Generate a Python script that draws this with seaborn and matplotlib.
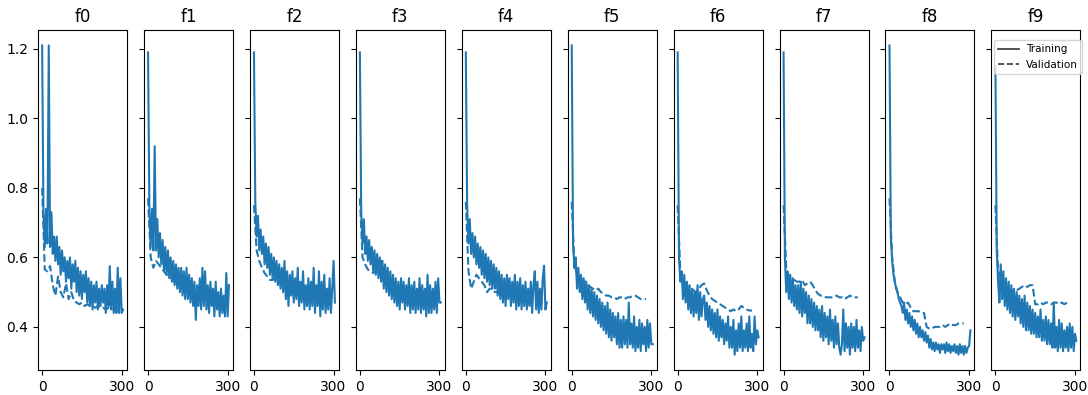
import numpy as np
import pandas as pd
import seaborn as sns
import matplotlib.pyplot as plt
from matplotlib.lines import Line2D

train_epochs = list(range(0, 306, 5))
val_epochs = list(range(0, 281, 10))

folds = ["f0", "f1", "f2", "f3", "f4", "f5", "f6", "f7", "f8", "f9"]

train_f0 = [1.21, 0.73, 0.63, 0.74, 0.64, 1.21, 0.63, 0.73, 0.61, 0.66,
            0.59, 0.66, 0.58, 0.63, 0.55, 0.62, 0.56, 0.60, 0.53, 0.59,
            0.54, 0.60, 0.51, 0.58, 0.53, 0.59, 0.50, 0.57, 0.49, 0.56,
            0.48, 0.55, 0.50, 0.56, 0.47, 0.54, 0.46, 0.53, 0.45, 0.52,
            0.47, 0.53, 0.45, 0.51, 0.46, 0.52, 0.47, 0.51, 0.44, 0.52,
            0.46, 0.575, 0.45, 0.53, 0.44, 0.51, 0.44, 0.57, 0.44, 0.54,
            0.44, 0.45]
train_f1 = [1.19, 0.74, 0.63, 0.74, 0.62, 0.92, 0.62, 0.71, 0.60, 0.67,
            0.58, 0.65, 0.56, 0.63, 0.55, 0.62, 0.54, 0.60, 0.53, 0.59,
            0.52, 0.58, 0.51, 0.57, 0.50, 0.57, 0.49, 0.56, 0.48, 0.57,
            0.48, 0.55, 0.47, 0.54, 0.46, 0.53, 0.42, 0.52, 0.46, 0.54,
            0.45, 0.57, 0.46, 0.56, 0.45, 0.52, 0.44, 0.53, 0.46, 0.51,
            0.43, 0.53, 0.45, 0.50, 0.43, 0.51, 0.44, 0.49, 0.43, 0.555,
            0.43, 0.52]
train_f2 = [1.19, 0.76, 0.66, 0.72, 0.62, 0.68, 0.61, 0.66, 0.58, 0.64,
            0.57, 0.63, 0.55, 0.61, 0.54, 0.60, 0.53, 0.59, 0.52, 0.58,
            0.51, 0.57, 0.50, 0.59, 0.48, 0.56, 0.46, 0.55, 0.49, 0.56,
            0.47, 0.54, 0.48, 0.57, 0.46, 0.53, 0.47, 0.56, 0.45, 0.52,
            0.46, 0.54, 0.45, 0.53, 0.46, 0.57, 0.44, 0.52, 0.46, 0.56,
            0.43, 0.53, 0.45, 0.55, 0.44, 0.51, 0.45, 0.54, 0.44, 0.51,
            0.59, 0.47]
train_f3 = [1.19, 0.73, 0.64, 0.71, 0.61, 0.66, 0.59, 0.65, 0.58, 0.63,
            0.56, 0.62, 0.55, 0.61, 0.54, 0.60, 0.53, 0.59, 0.51, 0.58,
            0.50, 0.57, 0.49, 0.56, 0.48, 0.55, 0.47, 0.54, 0.46, 0.53,
            0.45, 0.54, 0.47, 0.53, 0.45, 0.52, 0.46, 0.54, 0.44, 0.52,
            0.45, 0.53, 0.44, 0.51, 0.45, 0.54, 0.44, 0.52, 0.45, 0.51,
            0.43, 0.55, 0.44, 0.52, 0.44, 0.51, 0.45, 0.53, 0.44, 0.54,
            0.47, 0.47]
train_f4 = [1.19, 0.75, 0.64, 0.71, 0.61, 0.67, 0.60, 0.66, 0.58, 0.64,
            0.57, 0.63, 0.55, 0.62, 0.54, 0.61, 0.53, 0.60, 0.52, 0.59,
            0.51, 0.58, 0.51, 0.57, 0.49, 0.56, 0.48, 0.55, 0.47, 0.54,
            0.46, 0.55, 0.48, 0.54, 0.46, 0.53, 0.47, 0.55, 0.45, 0.53,
            0.46, 0.54, 0.45, 0.52, 0.46, 0.53, 0.45, 0.51, 0.46, 0.53,
            0.44, 0.52, 0.56, 0.45, 0.53, 0.44, 0.51, 0.45, 0.54, 0.576,
            0.45, 0.47]
train_f5 = [1.21, 0.64, 0.57, 0.60, 0.51, 0.57, 0.50, 0.55, 0.48, 0.54,
            0.47, 0.53, 0.45, 0.52, 0.44, 0.51, 0.43, 0.50, 0.42, 0.49,
            0.41, 0.48, 0.40, 0.47, 0.39, 0.46, 0.38, 0.47, 0.37, 0.45,
            0.36, 0.44, 0.37, 0.43, 0.35, 0.44, 0.34, 0.42, 0.34, 0.43,
            0.35, 0.42, 0.34, 0.47, 0.35, 0.41, 0.34, 0.43, 0.33, 0.40,
            0.34, 0.42, 0.33, 0.41, 0.35, 0.40, 0.33, 0.42, 0.34, 0.41,
            0.35, 0.35]
train_f6 = [1.19, 0.60, 0.53, 0.56, 0.48, 0.55, 0.47, 0.53, 0.45, 0.52,
            0.44, 0.51, 0.43, 0.50, 0.44, 0.52, 0.42, 0.50, 0.43, 0.48,
            0.49, 0.42, 0.47, 0.40, 0.46, 0.39, 0.45, 0.38, 0.44, 0.37,
            0.45, 0.36, 0.43, 0.37, 0.42, 0.35, 0.41, 0.36, 0.43, 0.34,
            0.40, 0.34, 0.42, 0.32, 0.39, 0.33, 0.41, 0.34, 0.43, 0.33,
            0.39, 0.34, 0.41, 0.33, 0.43, 0.34, 0.38, 0.33, 0.43, 0.35,
            0.39, 0.37]
train_f7 = [1.19, 0.60, 0.50, 0.56, 0.48, 0.55, 0.47, 0.54, 0.46, 0.52,
            0.45, 0.52, 0.44, 0.53, 0.43, 0.51, 0.44, 0.50, 0.41, 0.49,
            0.41, 0.48, 0.40, 0.47, 0.39, 0.46, 0.39, 0.45, 0.37, 0.46,
            0.36, 0.44, 0.37, 0.43, 0.35, 0.45, 0.36, 0.42, 0.34, 0.43,
            0.35, 0.41, 0.34, 0.32, 0.35, 0.45, 0.33, 0.41, 0.34, 0.40,
            0.32, 0.41, 0.34, 0.40, 0.33, 0.42, 0.34, 0.39, 0.33, 0.40,
            0.36, 0.37]
train_f8 = [1.21, 0.66, 0.59, 0.55, 0.53, 0.51, 0.50, 0.48, 0.47, 0.46,
            0.44, 0.47, 0.42, 0.45, 0.41, 0.44, 0.40, 0.43, 0.39, 0.42,
            0.38, 0.41, 0.37, 0.40, 0.37, 0.39, 0.36, 0.385, 0.355, 0.375,
            0.34, 0.365, 0.335, 0.355, 0.33, 0.355, 0.335, 0.35, 0.325, 0.35,
            0.335, 0.35, 0.325, 0.355, 0.33, 0.35, 0.325, 0.345, 0.33, 0.35,
            0.325, 0.345, 0.32, 0.35, 0.325, 0.345, 0.32, 0.345, 0.325, 0.34,
            0.345, 0.39]
train_f9 = [1.15, 0.62, 0.53, 0.47, 0.58, 0.48, 0.56, 0.46, 0.54, 0.45,
            0.53, 0.44, 0.52, 0.43, 0.51, 0.42, 0.50, 0.43, 0.49, 0.41,
            0.48, 0.40, 0.49, 0.39, 0.47, 0.39, 0.46, 0.38, 0.45, 0.38,
            0.44, 0.37, 0.43, 0.37, 0.45, 0.36, 0.42, 0.36, 0.43, 0.35,
            0.42, 0.35, 0.41, 0.34, 0.47, 0.34, 0.40, 0.33, 0.42, 0.34,
            0.41, 0.33, 0.39, 0.34, 0.40, 0.33, 0.41, 0.34, 0.40, 0.33,
            0.38, 0.36]

val_f0 = [0.80, 0.565, 0.56, 0.575, 0.52, 0.49, 0.545, 0.50, 0.485, 0.525,
          0.48, 0.50, 0.475, 0.47, 0.465, 0.47, 0.46, 0.465, 0.46, 0.46,
          0.455, 0.46, 0.455, 0.455, 0.45, 0.455, 0.45, 0.45, 0.45]
val_f1 = [0.77, 0.60, 0.57, 0.59, 0.58, 0.57, 0.56, 0.55, 0.545, 0.54,
          0.53, 0.525, 0.52, 0.515, 0.51, 0.505, 0.50, 0.50, 0.495, 0.49,
          0.49, 0.485, 0.485, 0.48, 0.48, 0.48, 0.475, 0.475, 0.475]
val_f2 = [0.75, 0.62, 0.59, 0.57, 0.555, 0.545, 0.535, 0.535, 0.54, 0.53,
          0.525, 0.52, 0.515, 0.51, 0.505, 0.50, 0.50, 0.495, 0.49, 0.49,
          0.49, 0.485, 0.485, 0.48, 0.48, 0.48, 0.48, 0.475, 0.475]
val_f3 = [0.77, 0.60, 0.58, 0.565, 0.56, 0.555, 0.56, 0.575, 0.59, 0.565,
          0.555, 0.54, 0.53, 0.52, 0.515, 0.51, 0.505, 0.50, 0.50, 0.495,
          0.49, 0.49, 0.49, 0.485, 0.485, 0.48, 0.48, 0.48, 0.48]
val_f4 = [0.76, 0.56, 0.51, 0.53, 0.55, 0.54, 0.53, 0.52, 0.50, 0.51,
          0.51, 0.50, 0.50, 0.495, 0.495, 0.49, 0.49, 0.49, 0.485, 0.485,
          0.485, 0.48, 0.48, 0.48, 0.48, 0.48, 0.48, 0.48, 0.48]
val_f5 = [0.76, 0.58, 0.55, 0.54, 0.535, 0.53, 0.52, 0.515, 0.51, 0.505,
          0.51, 0.50, 0.495, 0.49, 0.49, 0.485, 0.485, 0.48, 0.485, 0.485,
          0.48, 0.485, 0.485, 0.49, 0.49, 0.485, 0.48, 0.48, 0.48]
val_f6 = [0.75, 0.56, 0.53, 0.52, 0.515, 0.51, 0.505, 0.50, 0.51, 0.52,
          0.525, 0.505, 0.49, 0.48, 0.475, 0.47, 0.465, 0.46, 0.455, 0.45,
          0.445, 0.45, 0.445, 0.45, 0.46, 0.455, 0.45, 0.447, 0.447]
val_f7 = [0.75, 0.57, 0.545, 0.54, 0.535, 0.53, 0.53, 0.535, 0.52, 0.525,
          0.53, 0.52, 0.505, 0.495, 0.49, 0.49, 0.485, 0.485, 0.485, 0.485,
          0.49, 0.485, 0.485, 0.48, 0.485, 0.49, 0.485, 0.485, 0.485]
val_f8 = [0.77, 0.60, 0.53, 0.50, 0.485, 0.47, 0.465, 0.47, 0.455, 0.445,
          0.445, 0.445, 0.44, 0.44, 0.40, 0.395, 0.395, 0.40, 0.40, 0.40,
          0.405, 0.40, 0.405, 0.41, 0.405, 0.405, 0.41, 0.41, 0.41]
val_f9 = [0.75, 0.56, 0.54, 0.52, 0.51, 0.50, 0.505, 0.50, 0.505, 0.51,
          0.515, 0.52, 0.515, 0.52, 0.52, 0.465, 0.465, 0.47, 0.465, 0.47,
          0.47, 0.465, 0.47, 0.47, 0.465, 0.47, 0.465, 0.47, 0.47]

train_losses = [train_f0, train_f1, train_f2, train_f3, train_f4,
                train_f5, train_f6, train_f7, train_f8, train_f9]
val_losses = [val_f0, val_f1, val_f2, val_f3, val_f4,
              val_f5, val_f6, val_f7, val_f8, val_f9]

color = "#1f77b4"

fig, axes = plt.subplots(1, 10, figsize=(10.88, 3.95), dpi=100, sharey=True)
fig.subplots_adjust(left=0.035, right=0.993, top=0.924, bottom=0.063, wspace=0.19)

for ax, name, tr, va in zip(axes, folds, train_losses, val_losses):
    df_tr = pd.DataFrame({"epoch": train_epochs, "loss": tr})
    df_va = pd.DataFrame({"epoch": val_epochs, "loss": va})
    sns.lineplot(data=df_tr, x="epoch", y="loss", ax=ax, color=color, linewidth=1.5)
    sns.lineplot(data=df_va, x="epoch", y="loss", ax=ax, color=color, linewidth=1.5,
                 linestyle="--")
    ax.set_title(name, fontsize=12)
    ax.set_xlabel("")
    ax.set_ylabel("")
    ax.set_xticks([0, 300])

axes[0].set_yticks([0.4, 0.6, 0.8, 1.0, 1.2])

handles = [Line2D([0], [0], color="#333333", lw=1.2, ls="-"),
           Line2D([0], [0], color="#333333", lw=1.2, ls="--")]
axes[-1].legend(handles, ["Training", "Validation"], loc="upper right",
                bbox_to_anchor=(1.02, 0.97), borderaxespad=0,
                fontsize=7.5, handlelength=2.0, handletextpad=0.7,
                borderpad=0.4, labelspacing=0.5)

plt.savefig("out.png", dpi=100)
